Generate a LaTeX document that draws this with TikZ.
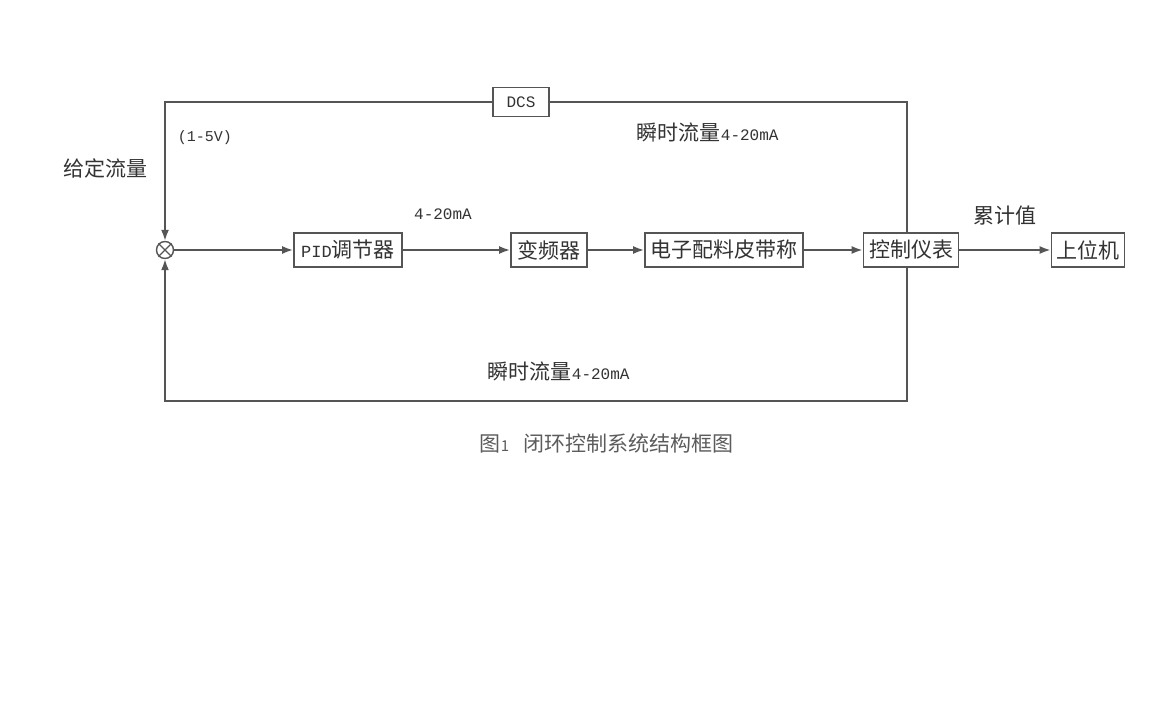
\documentclass[tikz,border=0pt]{standalone}
\usepackage{fontspec}
\setmainfont{Noto Sans CJK SC}
\newfontfamily\latin{Liberation Mono}
\usetikzlibrary{arrows.meta}
\definecolor{linec}{HTML}{555555}
\definecolor{textc}{HTML}{333333}
\begin{document}
\begin{tikzpicture}[x=1pt,y=-1pt,
  line width=1.8pt,
  every node/.style={text=textc},
  blk/.style={draw=linec,fill=white,minimum height=34pt,inner sep=0pt,font=\fontsize{21}{21}\selectfont},
  lbl/.style={font=\fontsize{21}{21}\selectfont,inner sep=0pt},
  lat/.style={font=\latin\fontsize{16}{16}\selectfont,inner sep=0pt},
  wire/.style={draw=linec},
  arr/.style={draw=linec,-{Latex[length=11pt,width=8pt]}}]
\useasboundingbox[fill=white] (0,0) rectangle (1170,720);

% nodes
\node[draw=linec,circle,minimum size=17pt,inner sep=0pt,line width=1.4pt] (sum) at (165,250) {};
\draw[linec,line width=1.4pt] (sum.north west) -- (sum.south east) (sum.north east) -- (sum.south west);
\node[blk,minimum width=108pt] (pid) at (348,250) {{\latin\fontsize{17}{17}\selectfont PID}调节器};
\node[blk,minimum width=76pt] (vfd) at (549,250) {变频器};
\node[blk,minimum width=158pt] (belt) at (724,250) {电子配料皮带称};
\node[blk,minimum width=95pt] (ctrl) at (911,250) {控制仪表};
\node[blk,minimum width=73pt] (host) at (1088,250) {上位机};
\node[blk,minimum width=56pt,minimum height=29pt,font=\latin\fontsize{16}{16}\selectfont] (dcs) at (521,102) {DCS};

\coordinate (tr) at (907,102);
\coordinate (tl) at (165,102);
\coordinate (br) at (907,401);
\coordinate (bl) at (165,401);

% connectors
\draw[wire] (ctrl.north -| tr) -- (tr) -- (dcs.east);
\draw[arr] (dcs.west) -- (tl) -- (sum.north);
\draw[arr] (ctrl.south -| br) -- (br) -- (bl) -- (sum.south);
\draw[arr] (sum.east) -- (pid.west);
\draw[arr] (pid.east) -- (vfd.west);
\draw[arr] (vfd.east) -- (belt.west);
\draw[arr] (belt.east) -- (ctrl.west);
\draw[arr] (ctrl.east) -- (host.west);
% redraw ctrl box on top of the vertical line
\node[blk,minimum width=95pt] at (911,250) {控制仪表};

% labels
\node[lbl] (l1) at (105,168) {给定流量};
\node[lat,font=\latin\fontsize{15}{15}\selectfont] (l2) at (205,138) {(1-5V)};
\node[lat] (l3) at (443,214) {4-20mA};
\node[lbl,anchor=west] (l4) at (636,132) {瞬时流量{\latin\fontsize{16}{16}\selectfont 4-20mA}};
\node[lbl] (l5) at (1005,216) {累计值};
\node[lbl,anchor=west] (l6) at (487,371) {瞬时流量{\latin\fontsize{16}{16}\selectfont 4-20mA}};
\node[lbl,anchor=west,text=textc!80] (cap) at (479,443) {图{\fontsize{15}{15}\selectfont 1}\hspace{14pt}闭环控制系统结构框图};
\end{tikzpicture}
\end{document}
